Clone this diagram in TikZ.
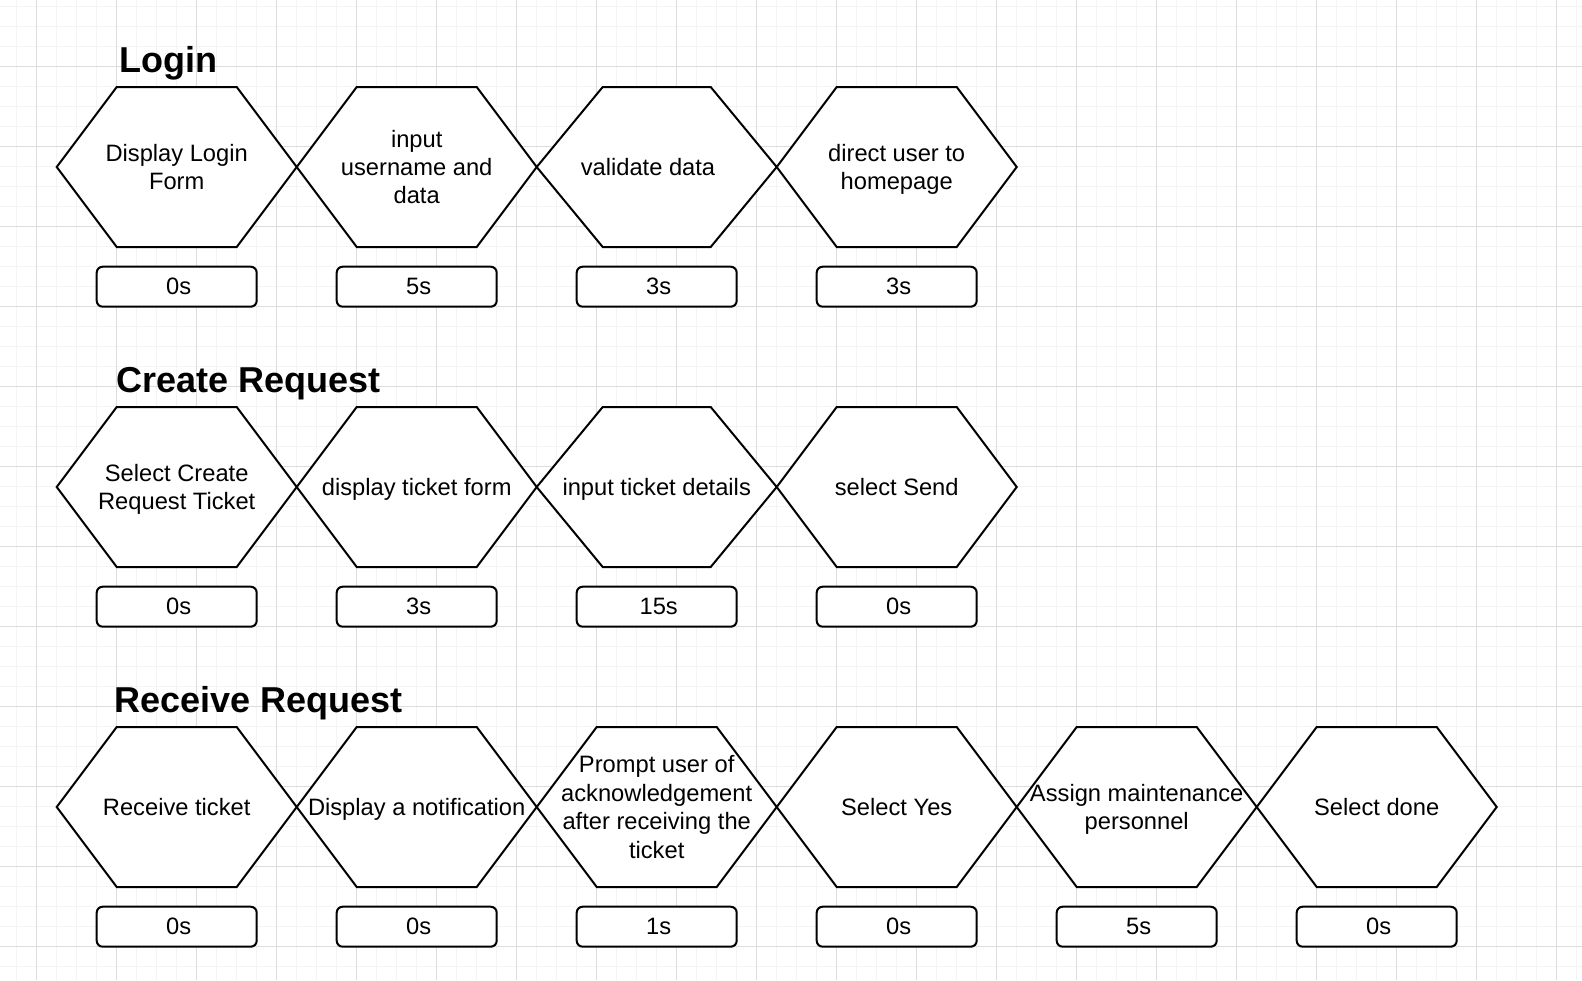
\documentclass[tikz,border=0pt]{standalone}
\usepackage{fontspec}
\setmainfont{Liberation Sans}
\definecolor{minorgrid}{RGB}{244,244,244}
\definecolor{majorgrid}{RGB}{221,221,221}
\tikzset{
  minorline/.style={draw=minorgrid, line width=1pt},
  majorline/.style={draw=majorgrid, line width=1pt},
  hexline/.style={draw=black, fill=white, line width=2pt, line join=miter},
  steptext/.style={font=\fontsize{23.7}{28.4}\selectfont, align=center, inner sep=0pt, text depth=0pt},
  timebox/.style={draw=black, fill=white, line width=2pt, rounded corners=6pt,
    minimum width=160pt, minimum height=40pt, inner sep=0pt,
    font=\fontsize{23.7}{28.4}\selectfont, execute at begin node={\hspace*{4pt}}},
  titletext/.style={font=\fontsize{36}{43}\selectfont\bfseries, anchor=base west, inner sep=0pt},
}
% name, cx, cy, inset, text x, text
\newcommand{\hexstep}[6]{%
  \draw[hexline] (#2-120,#3) -- (#2-120+#4,#3-80) -- (#2+120-#4,#3-80)
    -- (#2+120,#3) -- (#2+120-#4,#3+80) -- (#2-120+#4,#3+80) -- cycle;
  \node[steptext] (#1) at (#5,#3) {#6};%
}
\begin{document}
\begin{tikzpicture}[x=1pt,y=-1pt]
\useasboundingbox (0,0) rectangle (1582,980);
\fill[white] (0,0) rectangle (1582,980);
% grid
\foreach \i in {0,...,79} \draw[minorline] ({16.5+20*\i},0) -- ({16.5+20*\i},980);
\foreach \i in {0,...,48} \draw[minorline] (0,{6.3+20*\i}) -- (1582,{6.3+20*\i});
\foreach \i in {0,...,19} \draw[majorline] ({36.5+80*\i},0) -- ({36.5+80*\i},980);
\foreach \i in {0,...,11} \draw[majorline] (0,{66.3+80*\i}) -- (1582,{66.3+80*\i});

% titles
\node[titletext] (tlogin) at (119,72.3) {Login};
\node[titletext] (tcreate) at (116.5,392) {Create Request};
\node[titletext] (treceive) at (114.5,712) {Receive Request};

% row 1: Login
\hexstep{a1}{176.7}{167}{60}{176.7}{Display Login\\Form}
\hexstep{a2}{416.7}{167}{60}{416.7}{input\\username and\\data}
\hexstep{a3}{656.7}{167}{66}{648}{validate data}
\hexstep{a4}{896.7}{167}{60}{896.7}{direct user to\\homepage}
\node[timebox] (ta1) at (176.7,286.7) {0s};
\node[timebox] (ta2) at (416.7,286.7) {5s};
\node[timebox] (ta3) at (656.7,286.7) {3s};
\node[timebox] (ta4) at (896.7,286.7) {3s};

% row 2: Create Request
\hexstep{b1}{176.7}{487}{60}{176.7}{Select Create\\Request Ticket}
\hexstep{b2}{416.7}{487}{60}{416.7}{display ticket form}
\hexstep{b3}{656.7}{487}{66}{656.7}{input ticket details}
\hexstep{b4}{896.7}{487}{60}{896.7}{select Send}
\node[timebox] (tb1) at (176.7,606.7) {0s};
\node[timebox] (tb2) at (416.7,606.7) {3s};
\node[timebox] (tb3) at (656.7,606.7) {15s};
\node[timebox] (tb4) at (896.7,606.7) {0s};

% row 3: Receive Request
\hexstep{c1}{176.7}{807}{60}{176.7}{Receive ticket}
\hexstep{c2}{416.7}{807}{60}{416.7}{Display a notification}
\hexstep{c3}{656.7}{807}{60}{656.7}{Prompt user of\\acknowledgement\\after receiving the\\ticket}
\hexstep{c4}{896.7}{807}{60}{896.7}{Select Yes}
\hexstep{c5}{1136.7}{807}{60}{1136.7}{Assign maintenance\\personnel}
\hexstep{c6}{1376.7}{807}{60}{1376.7}{Select done}
\node[timebox] (tc1) at (176.7,926.7) {0s};
\node[timebox] (tc2) at (416.7,926.7) {0s};
\node[timebox] (tc3) at (656.7,926.7) {1s};
\node[timebox] (tc4) at (896.7,926.7) {0s};
\node[timebox] (tc5) at (1136.7,926.7) {5s};
\node[timebox] (tc6) at (1376.7,926.7) {0s};
\end{tikzpicture}
\end{document}
